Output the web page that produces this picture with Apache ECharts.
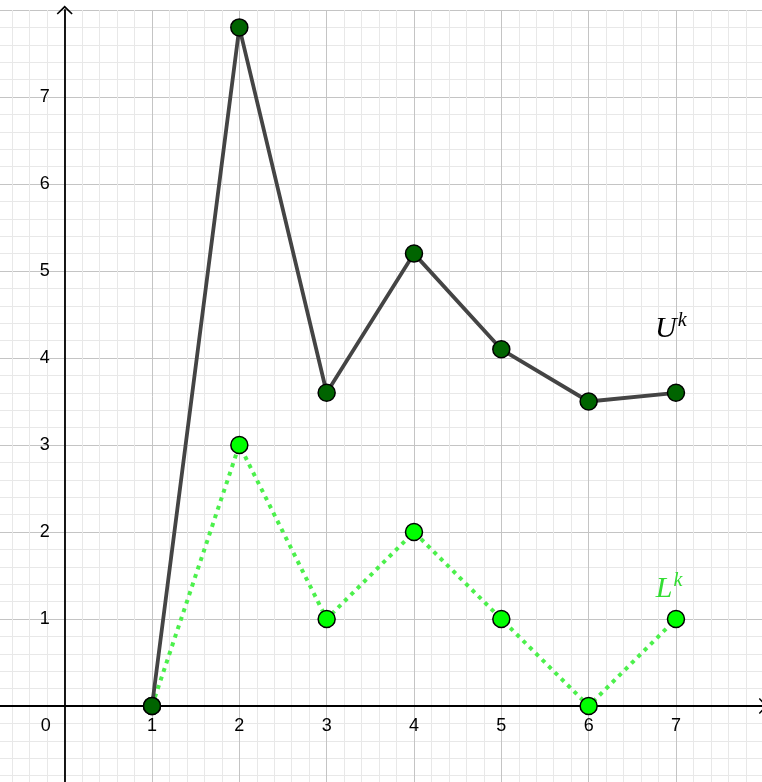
<!DOCTYPE html>
<html lang="en">
<head>
  <meta charset="UTF-8">
  <title>U^k / L^k</title>
  <script src="https://cdn.jsdelivr.net/npm/echarts@6.0.0/dist/echarts.min.js"></script>
  <style>
    html, body { margin: 0; padding: 0; background: #fff; }
  </style>
</head>
<body>
<div id="main" style="width: 762px;height:782px;"></div>
<script type="text/javascript">

  // k = 1..7
  const kValues = [1, 2, 3, 4, 5, 6, 7];
  // upper curve U^k
  const upperValues = [0, 7.8, 3.6, 5.2, 4.1, 3.5, 3.6];
  // lower curve L^k
  const lowerValues = [0, 3, 1, 2, 1, 0, 1];
  // tick labels that are printed
  const xTickLabels = [0, 1, 2, 3, 4, 5, 6, 7];
  const yTickLabels = [1, 2, 3, 4, 5, 6, 7];
  // where the two names sit (data units)
  const upperNameAt = [6.94, 4.33];
  const lowerNameAt = [6.92, 1.34];

  const upperData = kValues.map((k, i) => [k, upperValues[i]]);
  const lowerData = kValues.map((k, i) => [k, lowerValues[i]]);

  // open arrow head like geogebra
  const arrowPath = 'path://M0,10 L10,0 L20,10 L18.6,11.2 L10,3 L1.4,11.2 Z';

  const labelFont = {
    color: '#000',
    fontSize: 18,
    fontFamily: 'Liberation Sans, Arial, sans-serif'
  };

  const myChart = echarts.init(document.getElementById('main'));

  myChart.setOption({
    backgroundColor: '#fff',
    animation: false,
    grid: {
      left: -22.66,
      right: -1.3,
      top: 10,
      bottom: -11,
      containLabel: false,
      outerBoundsMode: 'none'
    },
    xAxis: {
      type: 'value',
      min: -1,
      max: 8,
      interval: 1,
      position: 'bottom',
      offset: -87,  // axis sits on y = 0
      axisLine: {
        show: true,
        onZero: false,
        symbol: ['none', arrowPath],
        symbolSize: [16, 9],
        lineStyle: {color: '#000', width: 1.8}
      },
      axisTick: {show: false},
      minorTick: {show: false, splitNumber: 5},
      splitLine: {show: true, lineStyle: {color: '#c4c4c4', width: 1}},
      minorSplitLine: {show: true, lineStyle: {color: '#e8e8e8', width: 1}},
      axisLabel: Object.assign({}, labelFont, {
        margin: 11,
        showMinLabel: true,
        showMaxLabel: true,
        hideOverlap: false,
        formatter: function (v) {
          if (xTickLabels.indexOf(v) < 0) return '';
          if (v === 0) return '{z|0}';
          return String(v);
        },
        rich: {
          z: Object.assign({}, labelFont, {padding: [0, 38, 0, 0]})
        }
      })
    },
    yAxis: {
      type: 'value',
      min: -1,
      max: 8,
      interval: 1,
      position: 'left',
      offset: -87.33,  // axis sits on x = 0
      axisLine: {
        show: true,
        onZero: false,
        symbol: ['none', arrowPath],
        symbolSize: [16, 9],
        lineStyle: {color: '#000', width: 1.8}
      },
      axisTick: {show: false},
      minorTick: {show: false, splitNumber: 5},
      splitLine: {show: true, lineStyle: {color: '#c4c4c4', width: 1}},
      minorSplitLine: {show: true, lineStyle: {color: '#e8e8e8', width: 1}},
      axisLabel: Object.assign({}, labelFont, {
        margin: 15,
        hideOverlap: false,
        formatter: function (v) {
          return yTickLabels.indexOf(v) < 0 ? '' : String(v);
        }
      })
    },
    series: [
      {
        name: 'L',
        type: 'line',
        data: lowerData,
        symbol: 'circle',
        symbolSize: 17,
        lineStyle: {color: '#4cf04c', width: 4, type: [4, 5], cap: 'butt'},
        itemStyle: {color: '#00ff00', borderColor: '#000', borderWidth: 1.5},
        markPoint: {
          symbol: 'circle',
          symbolSize: 0,
          data: [{coord: lowerNameAt}],
          label: {
            show: true,
            formatter: '{b|L}{s|k}',
            rich: {
              b: {fontFamily: 'Liberation Serif, serif', fontStyle: 'italic', fontSize: 30, color: '#33dd33'},
              s: {fontFamily: 'Liberation Serif, serif', fontStyle: 'italic', fontSize: 20, color: '#33dd33',
                  verticalAlign: 'top', padding: [0, 0, 18, 1]}
            }
          }
        }
      },
      {
        name: 'U',
        type: 'line',
        data: upperData,
        symbol: 'circle',
        symbolSize: 17,
        lineStyle: {color: '#444444', width: 3.8},
        itemStyle: {color: '#006400', borderColor: '#000', borderWidth: 1.5},
        markPoint: {
          symbol: 'circle',
          symbolSize: 0,
          data: [{coord: upperNameAt}],
          label: {
            show: true,
            formatter: '{b|U}{s|k}',
            rich: {
              b: {fontFamily: 'Liberation Serif, serif', fontStyle: 'italic', fontSize: 30, color: '#000'},
              s: {fontFamily: 'Liberation Serif, serif', fontStyle: 'italic', fontSize: 20, color: '#000',
                  verticalAlign: 'top', padding: [0, 0, 18, 1]}
            }
          }
        }
      }
    ]
  });

</script>
</body>
</html>
